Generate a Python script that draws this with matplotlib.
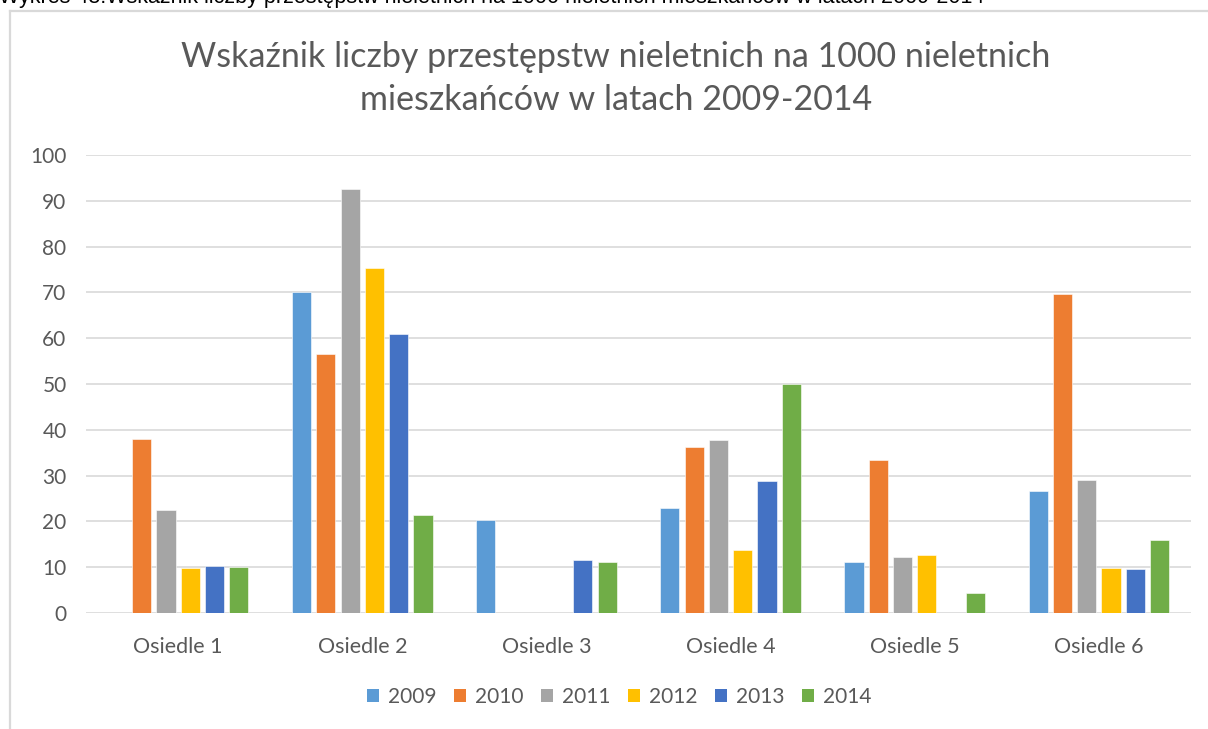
import matplotlib
matplotlib.use("Agg")
import matplotlib.pyplot as plt
from matplotlib.lines import Line2D
from matplotlib.patches import Patch
import numpy as np

plt.rcParams['font.family'] = ['Lato', 'DejaVu Sans']

# Data
categories = ["Osiedle 1", "Osiedle 2", "Osiedle 3", "Osiedle 4", "Osiedle 5", "Osiedle 6"]
years = ["2009", "2010", "2011", "2012", "2013", "2014"]
v2009 = [0, 70.0, 20.4, 22.9, 11.1, 26.6]
v2010 = [38.1, 56.5, 0, 36.2, 33.3, 69.7]
v2011 = [22.4, 92.6, 0, 37.8, 12.3, 29.1]
v2012 = [9.9, 75.3, 0, 13.7, 12.6, 9.8]
v2013 = [10.3, 61.0, 11.5, 28.8, 0, 9.5]
v2014 = [10.0, 21.5, 11.2, 49.9, 4.4, 15.9]
series = [v2009, v2010, v2011, v2012, v2013, v2014]
colors = ["#5B9BD5", "#ED7D31", "#A5A5A5", "#FFC000", "#4472C4", "#70AD47"]
yticks = [0, 10, 20, 30, 40, 50, 60, 70, 80, 90, 100]

caption = ("Wykres 48.Wskaźnik liczby przestępstw nieletnich na 1000 nieletnich "
           "mieszkańców w latach 2009-2014")
title_lines = ["Wskaźnik liczby przestępstw nieletnich na 1000 nieletnich",
               "mieszkańców w latach 2009-2014"]

W, H = 1208, 729
fig = plt.figure(figsize=(W / 100, H / 100), dpi=100)
fig.patch.set_facecolor("white")

def fx(px):
    return px / W

def fy(py):
    return 1 - py / H

ax = fig.add_axes([fx(86), fy(613), fx(1191) - fx(86), fy(155) - fy(613)])

x = np.arange(len(categories))
pitch = 0.132
width = 0.104
for k, (vals, c) in enumerate(zip(series, colors)):
    ax.bar(x + (k - 2.5) * pitch, vals, width=width, color=c, zorder=3,
           edgecolor="white", linewidth=0.4)

ax.set_xlim(-0.5, len(categories) - 0.5)
ax.set_ylim(0, 100)
ax.set_yticks(yticks)
ax.set_xticks(x)
ax.set_xticklabels(categories)
ax.yaxis.grid(True, color="#D9D9D9", linewidth=1.2, zorder=0)
ax.set_axisbelow(True)
for s in ax.spines.values():
    s.set_visible(False)
ax.tick_params(axis="both", length=0, labelcolor="#595959")
ax.tick_params(axis="y", pad=14, labelsize=15)
ax.tick_params(axis="x", pad=17, labelsize=15.5)

# Chart frame edges
fig.add_artist(Line2D([fx(10), fx(10)], [fy(729), fy(11)], color="#D9D9D9", lw=1.6,
                      transform=fig.transFigure))
fig.add_artist(Line2D([fx(10), fx(1208)], [fy(11), fy(11)], color="#D9D9D9", lw=1.6,
                      transform=fig.transFigure))

# Caption above the chart frame
fig.text(fx(-1), fy(3), caption, color="black", fontsize=15.5, va="baseline",
         ha="left", family=["Liberation Sans", "DejaVu Sans"])

# Title
fig.text(fx(616), fy(67), title_lines[0], color="#595959", fontsize=24.5,
         ha="center", va="baseline")
fig.text(fx(616), fy(110), title_lines[1], color="#595959", fontsize=24.5,
         ha="center", va="baseline")

handles = [Patch(facecolor=c, edgecolor="none") for c in colors]
fig.legend(handles, years, loc="center", bbox_to_anchor=(fx(619), fy(697)),
           ncol=6, frameon=False, fontsize=15, labelcolor="#595959",
           handlelength=0.6, handleheight=0.6, handletextpad=0.4,
           columnspacing=0.85)

fig.savefig("out.png", dpi=100, facecolor="white")
